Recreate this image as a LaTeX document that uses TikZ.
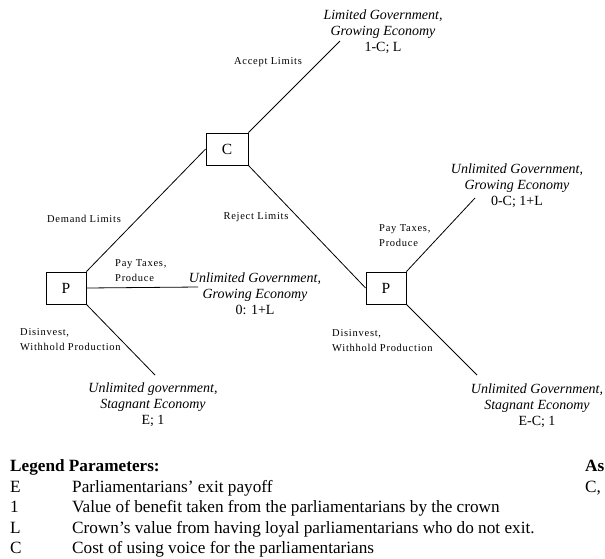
\documentclass[tikz,border=0pt]{standalone}
\usepackage{fontspec}
\setmainfont{Liberation Serif}
\newfontfamily\movefont[LetterSpace=7]{Liberation Serif}
\begin{document}
\begin{tikzpicture}[x=1pt,y=-1pt,
  player/.style={draw,line width=0.8pt,minimum width=40pt,minimum height=32pt,inner sep=0pt,font=\fontsize{15.5}{18}\selectfont},
  branch/.style={line width=0.8pt},
  outcome/.style={align=center,inner sep=0pt,font=\fontsize{14}{16}\selectfont},
  move/.style={align=left,inner sep=0pt,font=\movefont\fontsize{10.5}{15}\selectfont},
  legend/.style={anchor=base west,inner sep=0pt,font=\fontsize{17.2}{20}\selectfont}]
\useasboundingbox (0,0) rectangle (605,558);

% decision nodes
\node[player,minimum width=42pt] (C) at (227,149) {C};
\node[player] (P1) at (66,288) {P};
\node[player] (P2) at (386,288) {P};

% free ends of the terminal branches
\coordinate (t1) at (340,41);
\coordinate (t2) at (475,198);
\coordinate (t3) at (477,375);
\coordinate (t4) at (198,287);
\coordinate (t5) at (155,375);

% branches
\draw[branch] (C.north east) -- (t1);
\draw[branch] (C.west) -- (P1.north east);
\draw[branch] (C.south east) -- (P2.west);
\draw[branch] (P2.north east) -- (t2);
\draw[branch] (P2.south east) -- (t3);
\draw[branch] (P1.east) -- (t4);
\draw[branch] (P1.south east) -- (t5);

% move labels
\node[move] (mAccept) at (268,62) {Accept Limits};
\node[move] (mDemand) at (84,219) {Demand Limits};
\node[move] (mReject) at (256,217) {Reject Limits};
\node[move,anchor=west] (mPayR) at (379,236) {Pay Taxes,\\Produce};
\node[move,anchor=west] (mPayL) at (115,271) {Pay Taxes,\\Produce};
\node[move,anchor=west] (mDisL) at (20,340) {Disinvest,\\Withhold Production};
\node[move,anchor=west] (mDisR) at (332,341) {Disinvest,\\Withhold Production};

% outcomes and payoffs
\node[outcome] (o1) at (383,32) {\textit{Limited Government,}\\\textit{Growing Economy}\\1-C; L};
\node[outcome] (o2) at (517,186) {\textit{Unlimited Government,}\\\textit{Growing Economy}\\0-C; 1+L};
\node[outcome] (o3) at (255,294) {\textit{Unlimited Government,}\\\textit{Growing Economy}\\0: 1+L};
\node[outcome] (o4) at (153,405) {\textit{Unlimited government,}\\\textit{Stagnant Economy}\\E; 1};
\node[outcome] (o5) at (537,406) {\textit{Unlimited Government,}\\\textit{Stagnant Economy}\\E-C; 1};

% legend
\node[legend] (lh) at (10,471) {\textbf{Legend Parameters:}};
\node[legend] (lE) at (10,492) {E};
\node[legend] (l1) at (10,512) {1};
\node[legend] (lL) at (10,533) {L};
\node[legend] (lC) at (10,553) {C};
\node[legend] (dE) at (72,492) {Parliamentarians’ exit payoff};
\node[legend] (d1) at (72,512) {Value of benefit taken from the parliamentarians by the crown};
\node[legend] (dL) at (72,533) {Crown’s value from having loyal parliamentarians who do not exit.};
\node[legend] (dC) at (72,553) {Cost of using voice for the parliamentarians};
\node[legend] (ah) at (585,471) {\textbf{As}};
\node[legend] (aC) at (585,492) {C,};
\end{tikzpicture}
\end{document}
